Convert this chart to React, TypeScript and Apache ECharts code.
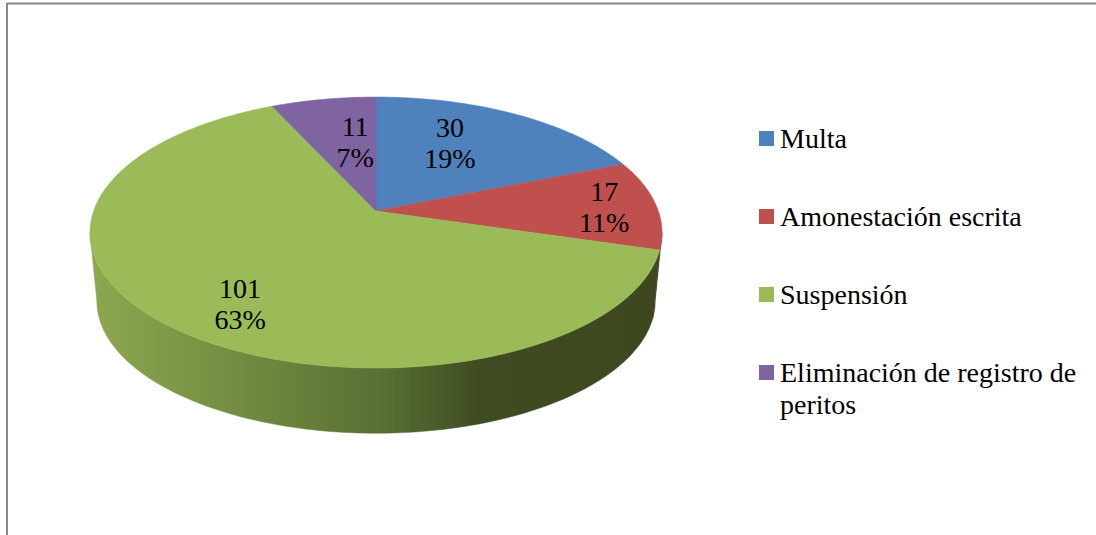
import React, { useEffect, useRef } from "react";
import * as echarts from "echarts";

const categories = ["Multa", "Amonestación escrita", "Suspensión", "Eliminación de registro de peritos"];
const values = [30, 17, 101, 11];
const percentLabels = ["19%", "11%", "63%", "7%"];
const topColors = ["#4F81BD", "#C0504D", "#9BBB59", "#8064A2"];
const wallColors = ["#2A4566", "#5E2725", "#4F6A30", "#3F3151"];
const legendLines = [["Multa"], ["Amonestación escrita"], ["Suspensión"], ["Eliminación de registro de", "peritos"]];

const FONT = "'Liberation Serif', serif";
const FONT_SIZE = 28;
const CX = 376;
const CY_TOP = 211;
const CY_BOTTOM = 280;
const A = 282.4;
const B = 132.1;
const K = 0.1587;
const BOTTOM_SCALE = 0.976;
// The silhouette of the tilted disc touches its outline where cos(angle) = -K.
const VISIBLE_FROM = (Math.acos(-K) * 180) / Math.PI;
const VISIBLE_TO = 360 - VISIBLE_FROM;

const total = values.reduce((a, b) => a + b, 0);
const startOf = (i: number) => values.slice(0, i).reduce((a, b) => a + b, 0);
const toDeg = (v: number) => (v / total) * 360;

function project(deg: number, r: number, cy: number, s: number): number[] {
  const t = (deg * Math.PI) / 180;
  const u = r * Math.sin(t);
  const v = -r * Math.cos(t);
  const w = 1 - K * v;
  return [CX + (s * A * u) / w, cy + (s * B * v) / w];
}

function arc(from: number, to: number, cy: number, s: number): number[][] {
  const pts: number[][] = [];
  const n = Math.max(2, Math.ceil(to - from));
  for (let i = 0; i <= n; i++) pts.push(project(from + ((to - from) * i) / n, 1, cy, s));
  return pts;
}

const labelRadius = [0.55, 0.8, 0.7, 0.55];
const labelNudge = [[-7, -12], [4, 1], [5, 17], [10, -4]];

function wallFill(i: number) {
  if (i !== 2) return wallColors[i];
  return new echarts.graphic.LinearGradient(
    91, 0, 660, 0,
    [
      { offset: 0, color: "#8CA84F" },
      { offset: 0.25, color: "#748D42" },
      { offset: 0.52, color: "#586E33" },
      { offset: 0.68, color: "#3F4B21" },
      { offset: 1, color: "#3D4820" },
    ],
    true
  );
}

const renderWall = (params: any, api: any) => {
  const i = params.dataIndex;
  const start = toDeg(startOf(i));
  const from = Math.max(start, VISIBLE_FROM);
  const to = Math.min(start + toDeg(api.value(0)), VISIBLE_TO);
  if (to <= from) return null;
  const points = [...arc(from, to, CY_TOP, 1), ...arc(from, to, CY_BOTTOM, BOTTOM_SCALE).reverse()];
  const fill = wallFill(i);
  return { type: "polygon", shape: { points }, style: { fill, stroke: fill, lineWidth: 0.5 } };
};

const renderTop = (params: any, api: any) => {
  const i = params.dataIndex;
  const from = toDeg(startOf(i));
  const to = from + toDeg(api.value(0));
  const points = [[CX, CY_TOP], ...arc(from, to, CY_TOP, 1)];
  return {
    type: "polygon",
    shape: { points },
    style: { fill: topColors[i], stroke: topColors[i], lineWidth: 0.5 },
  };
};

const renderLabel = (params: any, api: any) => {
  const i = params.dataIndex;
  const mid = toDeg(startOf(i)) + toDeg(api.value(0)) / 2;
  const p = project(mid, labelRadius[i], CY_TOP, 1);
  return {
    type: "text",
    style: {
      x: p[0] + labelNudge[i][0],
      y: p[1] + labelNudge[i][1],
      text: `${api.value(0)}\n${percentLabels[i]}`,
      fontFamily: FONT,
      fontSize: FONT_SIZE,
      lineHeight: 31,
      fill: "#000000",
      align: "center",
      verticalAlign: "middle",
    },
  };
};

const legendTops = [131, 209, 287, 365];

function buildGraphic() {
  const els: any[] = [
    { type: "line", shape: { x1: 7, y1: 3.5, x2: 1096, y2: 3.5 }, style: { stroke: "#868686", lineWidth: 2 } },
    { type: "line", shape: { x1: 7, y1: 3, x2: 7, y2: 535 }, style: { stroke: "#868686", lineWidth: 2 } },
  ];
  categories.forEach((_, i) => {
    els.push({
      type: "rect",
      shape: { x: 759, y: legendTops[i], width: 15, height: 15 },
      style: { fill: topColors[i] },
    });
    legendLines[i].forEach((line, j) => {
      els.push({
        type: "text",
        style: {
          x: 780,
          y: legendTops[i] + 7 + j * 32,
          text: line,
          fontFamily: FONT,
          fontSize: FONT_SIZE,
          fill: "#000000",
          align: "left",
          verticalAlign: "middle",
        },
      });
    });
  });
  return els;
}

export default function App() {
  const ref = useRef<HTMLDivElement>(null);
  useEffect(() => {
    document.body.style.margin = "0";
    const chart = echarts.init(ref.current!, undefined, { renderer: "svg" });
    const seriesData = values.map((v, i) => ({ name: categories[i], value: [v] }));
    chart.setOption({
      animation: false,
      backgroundColor: "#FFFFFF",
      series: [
        { type: "custom", coordinateSystem: "none", silent: true, z: 1, data: seriesData, renderItem: renderWall },
        { type: "custom", coordinateSystem: "none", silent: true, z: 2, data: seriesData, renderItem: renderTop },
        { type: "custom", coordinateSystem: "none", silent: true, z: 3, data: seriesData, renderItem: renderLabel },
      ],
      graphic: buildGraphic(),
    });
    return () => chart.dispose();
  }, []);
  return <div ref={ref} style={{ width: 1096, height: 535 }} />;
}
